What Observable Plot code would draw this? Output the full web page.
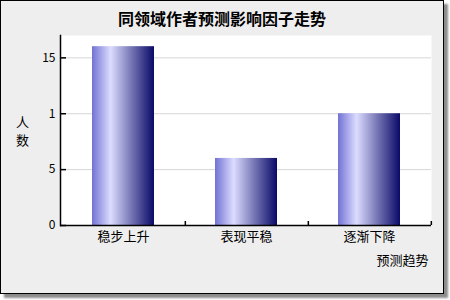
<!DOCTYPE html>
<html>
<head>
<meta charset="utf-8">
<script src="https://cdn.jsdelivr.net/npm/d3@7"></script>
<script src="https://cdn.jsdelivr.net/npm/@observablehq/plot@0.6"></script>
<style>
  body { margin: 0; background: #fff; }
  #panel {
    position: absolute; left: 0; top: 0;
    width: 442px; height: 292px;
    background: #eeeeee;
    border: 1px solid #000;
    box-shadow: 4px 4px 2px rgba(0, 0, 0, 0.45);
    font-family: "Noto Sans CJK SC", sans-serif;
  }
  #title {
    height: 34px; line-height: 34px;
    text-align: center; font-size: 16px; font-weight: bold; color: #000;
  }
  #chart svg { display: block; }
</style>
</head>
<body>
<div id="panel">
  <div id="title"></div>
  <div id="chart"></div>
</div>
<script>
// Chart content
const titleText = "同领域作者预测影响因子走势";
const categories = ["稳步上升", "表现平稳", "逐渐下降"];
const counts = [16, 6, 10];
const yTicks = [0, 5, 10, 15];
const yTickLabels = ["0", "5", "1", "15"];
const yLabel = "人数";
const xLabel = "预测趋势";

document.getElementById("title").textContent = titleText;

const data = categories.map((c, i) => ({category: c, count: counts[i]}));

// Layout of the SVG below the title
const W = 442, H = 258;
const mL = 59, mR = 12, mT = 0, mB = 68;
const padInner = 0.5, padOuter = 0.25;
const step = (W - mL - mR) / (categories.length - padInner + 2 * padOuter);

// Horizontal shading used to fill each bar
function shadeDefs() {
  const defs = d3.create("svg:defs");
  const g = defs.append("linearGradient")
    .attr("id", "barShade")
    .attr("x1", 0).attr("x2", 1).attr("y1", 0).attr("y2", 0);
  [[0, "#7272d4"], [0.3, "#dcdcff"], [0.62, "#7a7ab8"], [1, "#0a0a68"]].forEach(([o, c]) =>
    g.append("stop").attr("offset", o).attr("stop-color", c));
  return defs.node();
}

const chart = Plot.plot({
  width: W,
  height: H,
  marginLeft: mL,
  marginRight: mR,
  marginTop: mT,
  marginBottom: mB,
  style: {
    fontFamily: "'Noto Sans CJK SC', sans-serif",
    fontSize: "12px",
    background: "transparent",
    color: "#000",
    overflow: "visible"
  },
  x: {domain: categories, paddingInner: padInner, paddingOuter: padOuter},
  y: {domain: [0, 17]},
  marks: [
    shadeDefs,
    Plot.frame({fill: "white", stroke: null}),
    Plot.gridY({ticks: [5, 10, 15], stroke: "#d6d6d6", strokeOpacity: 1}),
    Plot.barY(data, {x: "category", y: "count", fill: "url(#barShade)"}),
    // value labels on the y axis
    Plot.axisY({
      ticks: yTicks,
      tickFormat: d => yTickLabels[yTicks.indexOf(d)],
      tickSize: 0, tickPadding: 5, label: null, fontSize: 12
    }),
    // short tick marks pointing into the plot
    Plot.axisY({ticks: yTicks, tickFormat: () => "", tickSize: 6, dx: 6, label: null, strokeWidth: 1.5}),
    // category names
    Plot.axisX({tickSize: 0, tickPadding: 6, label: null, fontSize: 13}),
    // tick marks at the right edge of every category band
    Plot.axisX({tickFormat: () => "", tickSize: 4, dy: -4, dx: step / 2, label: null, strokeWidth: 1.5}),
    Plot.ruleY([0], {stroke: "#000", strokeWidth: 1.5}),
    Plot.frame({anchor: "left", stroke: "#000", strokeWidth: 1.5}),
    Plot.text([yLabel], {
      frameAnchor: "left", text: d => d.split("").join("\n"),
      dx: -38, lineHeight: 1.35, fontSize: 13, textAnchor: "middle"
    }),
    Plot.text([xLabel], {
      frameAnchor: "bottom-right", text: d => d,
      dx: -3, dy: 39, fontSize: 13, textAnchor: "end"
    })
  ]
});

document.getElementById("chart").append(chart);
</script>
</body>
</html>
